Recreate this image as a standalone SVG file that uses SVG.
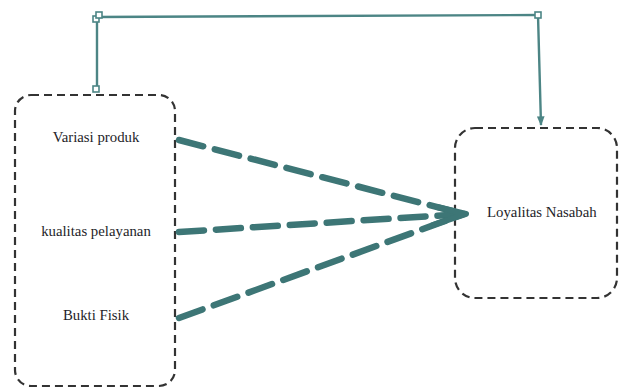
<svg xmlns="http://www.w3.org/2000/svg" width="620" height="389" viewBox="0 0 620 389">
  <defs>
    <style>
      .box { fill: none; stroke: #333; stroke-width: 2.2; stroke-dasharray: 8 5; }
      .lbl { font-family: 'Liberation Serif', 'DejaVu Serif', serif; font-size: 14.8px; fill: #1e1e28; }
      .link { fill: none; stroke: #3d7676; stroke-width: 6.5; stroke-dasharray: 25 12; stroke-linecap: round; }
      .wing { fill: none; stroke: #3d7676; stroke-width: 6; stroke-linecap: round; stroke-linejoin: round; }
      .feedback { fill: none; stroke: #4c8585; stroke-width: 2.4; }
      .knot { fill: #fff; stroke: #4c8585; stroke-width: 1.6; }
    </style>
    <marker id="tip" viewBox="0 0 10 10" refX="9" refY="5" markerWidth="4" markerHeight="4" orient="auto" markerUnits="strokeWidth">
      <path d="M0,1 L10,5 L0,9 z" fill="#4c8585"/>
    </marker>
  </defs>

  <!-- factors box -->
  <g id="factors">
    <rect class="box" x="15" y="95" width="160" height="291" rx="16"/>
    <text class="lbl" x="96" y="142" text-anchor="middle">Variasi produk</text>
    <text class="lbl" x="96" y="236" text-anchor="middle">kualitas pelayanan</text>
    <text class="lbl" x="96" y="320" text-anchor="middle">Bukti Fisik</text>
  </g>

  <!-- outcome box -->
  <g id="loyalty">
    <rect class="box" x="455" y="128" width="162" height="170" rx="20"/>
    <text class="lbl" x="487" y="217">Loyalitas Nasabah</text>
  </g>

  <g id="connectors">
    <!-- thick dashed influences -->
    <path class="link" d="M179,140 L464,214"/>
    <path class="link" d="M179,232 L464,214"/>
    <path class="link" d="M179,318 L464,214"/>
    <path class="wing" d="M437,207 L466,214 L433,225"/>
    <!-- feedback loop along the top -->
    <path class="feedback" d="M97,89 L97,17 L538,15 L541,125" marker-end="url(#tip)"/>
    <rect class="knot" x="93" y="86" width="6" height="6"/>
    <rect class="knot" x="93" y="16" width="6" height="6"/>
    <rect class="knot" x="96" y="12" width="6" height="6"/>
    <rect class="knot" x="535" y="12" width="6" height="6"/>
  </g>
</svg>
